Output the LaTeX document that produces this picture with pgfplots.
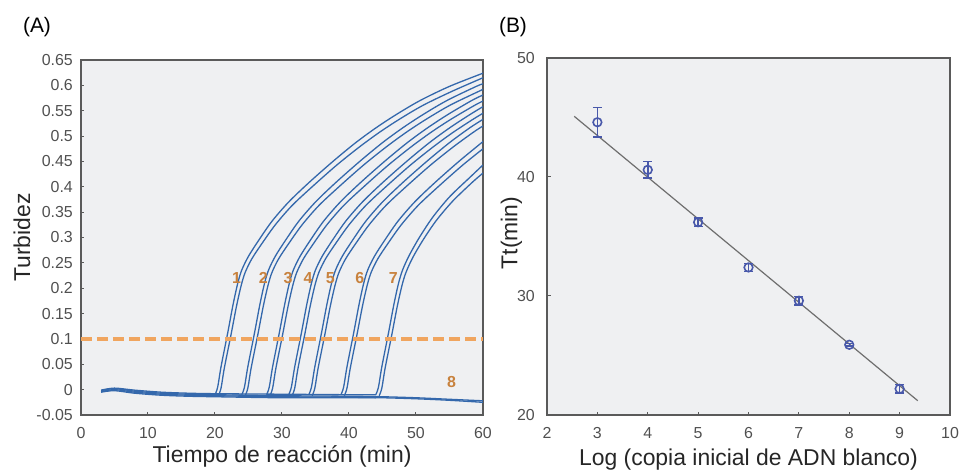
\documentclass[border=0pt]{standalone}
\usepackage{pgfplots}
\pgfplotsset{compat=1.18}
\usepackage{fontspec}
\setmainfont{Liberation Sans}

\definecolor{curve}{RGB}{52,104,172}
\definecolor{thr}{RGB}{240,165,95}
\definecolor{lab}{RGB}{200,130,62}
\definecolor{bg}{RGB}{239,240,242}
\definecolor{frame}{RGB}{90,90,90}
\definecolor{ticktxt}{RGB}{80,80,80}
\definecolor{pt}{RGB}{72,88,170}
\definecolor{fit}{RGB}{110,110,110}

\pgfplotsset{
  panel/.style={
    scale only axis,
    axis background/.style={fill=bg},
    axis line style={frame, line width=1.2bp},
    tick align=inside,
    xtick pos=bottom, ytick pos=left,
    major tick length=3.5bp,
    every tick/.append style={frame, line width=1bp},
    tick label style={font=\fontsize{16}{18}\selectfont, text=ticktxt},
    label style={font=\fontsize{23}{26}\selectfont, text=black!85},
    /pgf/number format/assume math mode=true,
  },
  rep/.style={curve, line width=1.3bp, smooth},
}

\begin{document}
\begin{tikzpicture}
\useasboundingbox (-81bp,-56bp) rectangle (881bp,415bp);

% (A) turbidity curves
\begin{axis}[panel, name=A, at={(0,0)}, anchor=south west,
  width=402bp, height=355bp,
  xmin=0, xmax=60, ymin=-0.05, ymax=0.65,
  xtick={0,10,20,30,40,50,60},
  ytick={-0.05,0,0.05,0.1,0.15,0.2,0.25,0.3,0.35,0.4,0.45,0.5,0.55,0.6,0.65},
  yticklabels={-0.05,0,0.05,0.1,0.15,0.2,0.25,0.3,0.35,0.4,0.45,0.5,0.55,0.6,0.65},
  xticklabel style={inner sep=0pt, yshift=-12bp},
  yticklabel style={inner sep=0pt, xshift=-8bp},
  xlabel={Tiempo de reacción (min)}, ylabel={Turbidez},
  xlabel style={at={(axis description cs:0.5,-0.118)}, anchor=center},
  ylabel style={at={(axis description cs:-0.147,0.5)}, anchor=center},
]
% baselines
\addplot[rep] coordinates {(3,-0.002)(5,0.002)(8,-0.003)(12,-0.007)(16,-0.009)(20,-0.010)(30,-0.012)(40,-0.013)(45,-0.014)(50,-0.016)(55,-0.019)(60,-0.022)};
\addplot[rep] coordinates {(3,-0.004)(5,0.000)(8,-0.005)(12,-0.009)(16,-0.011)(20,-0.012)(30,-0.014)(40,-0.015)(45,-0.016)(50,-0.018)(55,-0.021)(60,-0.025)};
\addplot[rep] coordinates {(3,-0.001)(5,0.003)(8,-0.001)(12,-0.005)(16,-0.007)(20,-0.008)(30,-0.009)(40,-0.010)(44,-0.010)};
\addplot[rep] coordinates {(3,-0.005)(5,-0.002)(8,-0.007)(12,-0.011)(16,-0.013)(20,-0.014)(30,-0.016)(40,-0.016)(44,-0.016)};
% 1
\addplot[rep] coordinates {(20,-0.010)(20.4,0.005)(20.9,0.045)(21.9,0.112)(22.7,0.168)(23.4,0.210)(24.0,0.236)(25.0,0.263)(26.5,0.294)(28.5,0.332)(31,0.370)(34,0.408)(37.6,0.450)(41,0.487)(44,0.516)(47,0.542)(50.6,0.570)(55,0.598)(60,0.624)};
\addplot[rep] coordinates {(20.5,-0.012)(20.9,0.003)(21.4,0.043)(22.4,0.109)(23.2,0.164)(23.9,0.205)(24.5,0.231)(25.5,0.258)(27.0,0.288)(29.0,0.325)(31.5,0.363)(34.5,0.400)(38.1,0.442)(41.5,0.478)(44.5,0.507)(47.5,0.533)(51.1,0.561)(55.5,0.589)(60,0.615)};
% 2
\addplot[rep] coordinates {(24,-0.010)(24.4,0.005)(24.9,0.045)(25.9,0.112)(26.7,0.168)(27.4,0.210)(28.0,0.236)(29.0,0.263)(30.5,0.294)(32.5,0.332)(35,0.370)(38,0.408)(41.6,0.450)(45,0.487)(48,0.516)(51,0.542)(54.6,0.570)(59,0.598)(60,0.603)};
\addplot[rep] coordinates {(24.5,-0.012)(24.9,0.003)(25.4,0.043)(26.4,0.109)(27.2,0.164)(27.9,0.205)(28.5,0.231)(29.5,0.258)(31.0,0.288)(33.0,0.325)(35.5,0.363)(38.5,0.400)(42.1,0.442)(45.5,0.478)(48.5,0.507)(51.5,0.533)(55.1,0.561)(59.5,0.589)(60,0.592)};
% 3
\addplot[rep] coordinates {(27.7,-0.010)(28.1,0.005)(28.6,0.045)(29.6,0.112)(30.4,0.168)(31.1,0.210)(31.7,0.236)(32.7,0.263)(34.2,0.294)(36.2,0.332)(38.7,0.370)(41.7,0.408)(45.3,0.450)(48.7,0.487)(51.7,0.516)(54.7,0.542)(58.3,0.570)(60,0.581)};
\addplot[rep] coordinates {(28.2,-0.012)(28.6,0.003)(29.1,0.043)(30.1,0.109)(30.9,0.164)(31.6,0.205)(32.2,0.231)(33.2,0.258)(34.7,0.288)(36.7,0.325)(39.2,0.363)(42.2,0.400)(45.8,0.442)(49.2,0.478)(52.2,0.507)(55.2,0.533)(58.8,0.561)(60,0.569)};
% 4
\addplot[rep] coordinates {(31.0,-0.010)(31.4,0.005)(31.9,0.045)(32.9,0.112)(33.7,0.168)(34.4,0.210)(35.0,0.236)(36.0,0.263)(37.5,0.294)(39.5,0.332)(42,0.370)(45,0.408)(48.6,0.450)(52,0.487)(55,0.516)(58,0.542)(60,0.558)};
\addplot[rep] coordinates {(31.5,-0.012)(31.9,0.003)(32.4,0.043)(33.4,0.109)(34.2,0.164)(34.9,0.205)(35.5,0.231)(36.5,0.258)(38.0,0.288)(40.0,0.325)(42.5,0.363)(45.5,0.400)(49.1,0.442)(52.5,0.478)(55.5,0.507)(58.5,0.533)(60,0.545)};
% 5
\addplot[rep] coordinates {(34.0,-0.010)(34.4,0.005)(34.9,0.045)(35.9,0.112)(36.7,0.168)(37.4,0.210)(38.0,0.236)(39.0,0.263)(40.5,0.294)(42.5,0.332)(45,0.370)(48,0.408)(51.6,0.450)(55,0.487)(58,0.516)(60,0.533)};
\addplot[rep] coordinates {(34.5,-0.012)(34.9,0.003)(35.4,0.043)(36.4,0.109)(37.2,0.164)(37.9,0.205)(38.5,0.231)(39.5,0.258)(41.0,0.288)(43.0,0.325)(45.5,0.363)(48.5,0.400)(52.1,0.442)(55.5,0.478)(58.5,0.507)(60,0.520)};
% 6
\addplot[rep] coordinates {(38.8,-0.010)(39.2,0.005)(39.7,0.045)(40.7,0.112)(41.5,0.168)(42.2,0.210)(42.8,0.236)(43.8,0.263)(45.3,0.294)(47.3,0.332)(49.8,0.370)(52.8,0.408)(56.4,0.450)(59.8,0.487)(60,0.489)};
\addplot[rep] coordinates {(39.3,-0.012)(39.7,0.003)(40.2,0.043)(41.2,0.109)(42.0,0.164)(42.7,0.205)(43.3,0.231)(44.3,0.258)(45.8,0.288)(47.8,0.325)(50.3,0.363)(53.3,0.400)(56.9,0.442)(60,0.475)};
% 7
\addplot[rep] coordinates {(44.0,-0.010)(44.4,0.005)(44.9,0.045)(45.9,0.112)(46.7,0.168)(47.4,0.210)(48.0,0.236)(49.0,0.265)(50.5,0.300)(52.5,0.340)(55,0.380)(58,0.418)(60,0.443)};
\addplot[rep] coordinates {(44.5,-0.012)(44.9,0.003)(45.4,0.043)(46.4,0.109)(47.2,0.164)(47.9,0.205)(48.5,0.231)(49.5,0.260)(51.0,0.294)(53.0,0.333)(55.5,0.372)(58.5,0.410)(60,0.427)};
% threshold
\addplot[thr, line width=3.2bp, dash pattern=on 11bp off 5bp] coordinates {(0,0.1)(60,0.1)};
\begin{scope}[every node/.style={text=lab, font=\fontsize{16}{18}\selectfont\bfseries}]
\node at (axis cs:23.2,0.22) {1};
\node at (axis cs:27.2,0.22) {2};
\node at (axis cs:30.9,0.22) {3};
\node at (axis cs:33.9,0.22) {4};
\node at (axis cs:37.2,0.22) {5};
\node at (axis cs:41.6,0.22) {6};
\node at (axis cs:46.6,0.22) {7};
\node at (axis cs:55.3,0.016) {8};
\end{scope}
\end{axis}

% (B) standard curve
\begin{axis}[panel, name=B, at={(466bp,0)}, anchor=south west,
  width=403bp, height=357bp,
  xmin=2, xmax=10, ymin=20, ymax=50,
  xtick={2,3,4,5,6,7,8,9,10},
  ytick={20,30,40,50},
  xticklabel style={inner sep=0pt, yshift=-12bp},
  yticklabel style={inner sep=0pt, xshift=-12bp},
  xlabel={Log (copia inicial de ADN blanco)}, ylabel={Tt(min)},
  xlabel style={at={(axis description cs:0.5,-0.126)}, anchor=center},
  ylabel style={at={(axis description cs:-0.088,0.51)}, anchor=center},
]
\addplot[fit, line width=1.2bp] coordinates {(2.54,45.1)(9.36,21.2)};
\addplot[pt, only marks, mark=o, mark size=4.3bp, mark options={line width=1.6bp},
  error bars/.cd, y dir=both, y explicit,
  error bar style={line width=1.5bp},
  error mark options={rotate=90, line width=1.5bp, mark size=4.5bp}]
  coordinates {
  (3,44.6) +- (0,1.25)
  (4,40.6) +- (0,0.7)
  (5,36.2) +- (0,0.35)
  (6,32.4) +- (0,0.35)
  (7,29.6) +- (0,0.35)
  (8,25.9) +- (0,0.1)
  (9,22.2) +- (0,0.35)
  };
\end{axis}

\node[font=\fontsize{21}{24}\selectfont] at (-44bp,388bp) {(A)};
\node[font=\fontsize{21}{24}\selectfont] at (432bp,388bp) {(B)};
\end{tikzpicture}
\end{document}
